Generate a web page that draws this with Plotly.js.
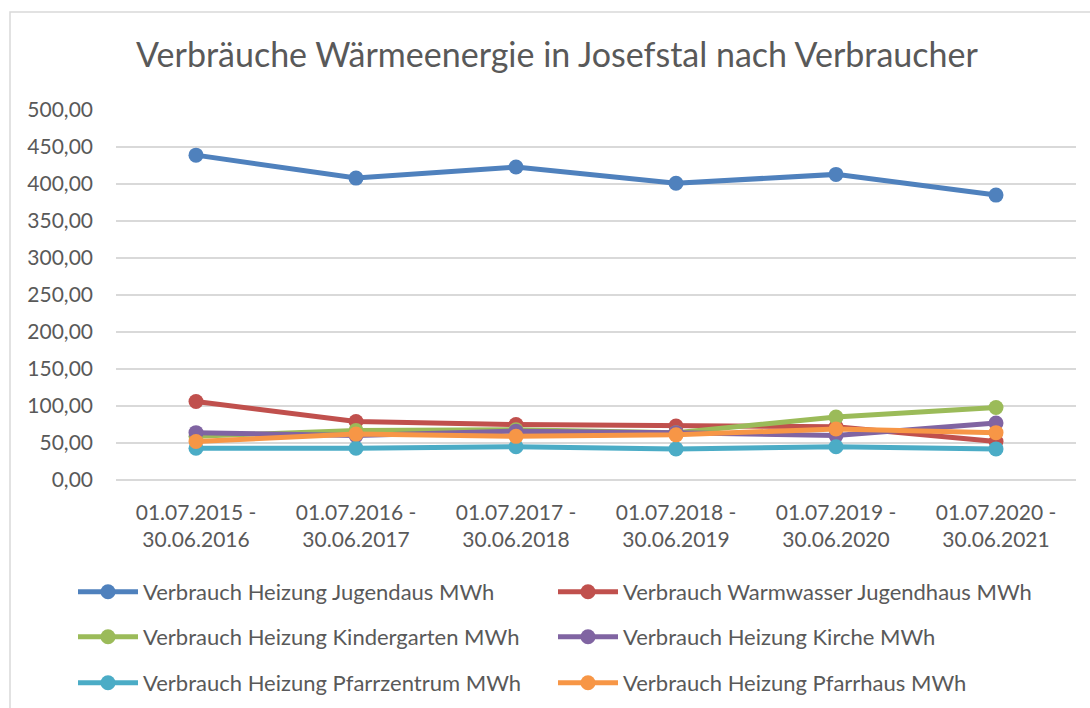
<!DOCTYPE html>
<html><head><meta charset="utf-8">
<script src="https://cdn.plot.ly/plotly-3.0.1.min.js"></script>
<style>html,body{margin:0;padding:0;background:#fff;}#chart{width:1090px;height:708px;}</style>
</head><body><div id="chart"></div>
<script>
const categories = ["01.07.2015 -<br>30.06.2016","01.07.2016 -<br>30.06.2017","01.07.2017 -<br>30.06.2018","01.07.2018 -<br>30.06.2019","01.07.2019 -<br>30.06.2020","01.07.2020 -<br>30.06.2021"];
const seriesNames = ["Verbrauch Heizung Jugendaus MWh","Verbrauch Warmwasser Jugendhaus MWh","Verbrauch Heizung Kindergarten MWh","Verbrauch Heizung Kirche MWh","Verbrauch Heizung Pfarrzentrum MWh","Verbrauch Heizung Pfarrhaus MWh"];
const heizungJugendhaus = [439, 408, 423, 401, 413, 385];
const warmwasserJugendhaus = [106, 79, 75, 73, 72, 52];
const heizungKindergarten = [59, 67, 68, 64, 85, 98];
const heizungKirche = [64, 60, 66, 64, 60, 77];
const heizungPfarrzentrum = [43, 43, 45, 42, 45, 42];
const heizungPfarrhaus = [52, 62, 59, 61, 69, 64];
const yTicks = [0,50,100,150,200,250,300,350,400,450,500];
const yTickText = ["0,00","50,00","100,00","150,00","200,00","250,00","300,00","350,00","400,00","450,00","500,00"];

const colors = ["#4F81BD","#C0504D","#9BBB59","#8064A2","#4BACC6","#F79646"];
const allSeries = [heizungJugendhaus, warmwasserJugendhaus, heizungKindergarten, heizungKirche, heizungPfarrzentrum, heizungPfarrhaus];
const legendIds = ["legend","legend2","legend3","legend4","legend5","legend6"];
const traces = allSeries.map((vals,i)=>({
  type:"scatter", mode:"lines+markers", x:categories, y:vals, name:seriesNames[i],
  line:{color:colors[i], width:5}, marker:{color:colors[i], size:15},
  legend: legendIds[i], cliponaxis:false
}));
const fam = "Lato, 'Open Sans', sans-serif";
function leg(xpix, ypix){
  return {orientation:"h", xref:"container", yref:"container", x:xpix/1090, xanchor:"left",
    y:1-ypix/708, yanchor:"middle", itemwidth:60,
    font:{family:fam, color:"#595959", size:22}, bgcolor:"rgba(0,0,0,0)"};
}
const layout = {
  width:1090, height:708,
  margin:{l:116, r:14, t:110, b:228},
  paper_bgcolor:"#fff", plot_bgcolor:"#fff",
  font:{family:fam, color:"#595959"},
  title:{text:"Verbräuche Wärmeenergie in Josefstal nach Verbraucher", xref:"container", x:557/1090, xanchor:"center",
    yref:"container", y:1-55/708, yanchor:"middle",
    font:{family:fam, size:34, color:"#595959"}},
  xaxis:{type:"category", showgrid:false, zeroline:false, showline:false, ticks:"",
    tickfont:{size:21, color:"#595959", family:fam}, range:[-0.5,5.5], automargin:false, ticklabelstandoff:18},
  yaxis:{range:[0,500], tickvals:yTicks, ticktext:yTickText, showgrid:true, gridcolor:"#D9D9D9", gridwidth:1.3,
    zeroline:true, zerolinecolor:"#D9D9D9", zerolinewidth:1.3, showline:false, ticks:"",
    tickfont:{size:21, color:"#595959", family:fam}, automargin:false, ticklabelstandoff:22},
  showlegend:true,
  legend:leg(73, 592),
  legend2:leg(553, 592),
  legend3:leg(73, 637),
  legend4:leg(553, 637),
  legend5:leg(73, 683),
  legend6:leg(553, 683),
  shapes:[{type:"rect", xref:"paper", yref:"paper", x0:(10-116)/960, x1:1.2, y0:-1, y1:(480-12)/370,
    line:{color:"#D9D9D9", width:1.5}, fillcolor:"rgba(0,0,0,0)", layer:"below"}]
};
Plotly.newPlot("chart", traces, layout, {displayModeBar:false, staticPlot:true});
</script></body></html>
